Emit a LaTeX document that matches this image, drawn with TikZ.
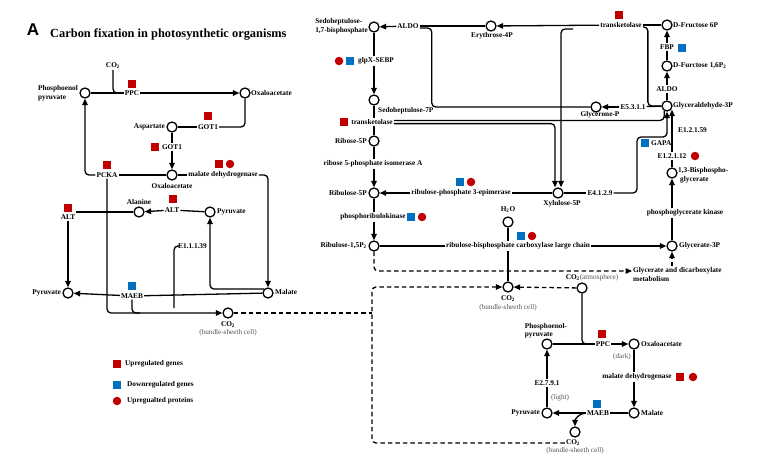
\documentclass[tikz,border=0pt]{standalone}
\usepackage{fontspec}
\setmainfont{Liberation Serif}
\newfontfamily\sansA{Liberation Sans}
\usetikzlibrary{arrows.meta,calc}
\definecolor{upred}{HTML}{C00000}
\definecolor{dnblue}{HTML}{0070C0}
\definecolor{txtgray}{HTML}{555555}
\begin{document}
\begin{tikzpicture}[x=1pt,y=-1pt,
  met/.style={circle,draw,line width=1.3pt,minimum size=10pt,inner sep=0pt},
  lb/.style={font=\bfseries\fontsize{7.3}{8.8}\selectfont,inner sep=1pt},
  gl/.style={font=\fontsize{7.2}{7.6}\selectfont,text=txtgray,inner sep=1pt},
  upg/.style={fill=upred,minimum size=7.5pt,inner sep=0pt},
  dng/.style={fill=dnblue,minimum size=7.5pt,inner sep=0pt},
  upp/.style={circle,fill=upred,minimum size=8.5pt,inner sep=0pt},
  ln/.style={line width=1.3pt},
  ar/.style={ln,-{Triangle[length=6.5pt,width=5.5pt]}},
  dsh/.style={line width=1.3pt,dash pattern=on 4.5pt off 3pt},
  dar/.style={dsh,-{Triangle[length=6.5pt,width=5.5pt]}},
  rc/.style={rounded corners=4pt},
]
\useasboundingbox (0,0) rectangle (760,463);
% ---------- title ----------
\node[font=\sansA\bfseries\fontsize{17}{17}\selectfont,inner sep=0] (A) at (33,30) {A};
\node[font=\bfseries\fontsize{12.4}{13}\selectfont,anchor=west,inner sep=0] (title) at (50,35) {Carbon fixation in photosynthetic organisms};
% ---------- left panel ----------
\node[lb] (co2a) at (113,66) {CO\textsubscript{2}};
\node[met] (pepL) at (85,93) {};
\node[lb,anchor=east,align=left] at (79,93) {Phosphoenol\\pyruvate};
\node[lb] (ppcL) at (132,93) {PPC};
\node[upg] at (132,84) {};
\node[met] (oaaL) at (245,93) {};
\node[lb,anchor=west] at (250,93) {Oxaloacetate};
\node[met] (asp) at (172,127) {};
\node[lb,anchor=east] at (166,127) {Aspartate};
\node[lb] (got1a) at (208,127) {GOT1};
\node[upg] at (208,116) {};
\node[lb] (got1b) at (172,147) {GOT1};
\node[upg] at (155,147) {};
\node[met] (oaa2) at (172,175) {};
\node[lb] at (172,186) {Oxaloacetate};
\node[lb] (pcka) at (107,175) {PCKA};
\node[upg] at (107,165) {};
\node[lb] (mdhL) at (223,175) {malate dehydrogenase};
\node[upg] at (219,164) {};
\node[upp] at (230,164) {};
\node[met] (malL) at (268,293) {};
\node[lb,anchor=west] at (274,292) {Malate};
\node[met] (ala) at (139,212) {};
\node[lb] at (139,202) {Alanine};
\node[lb] (alt1) at (172,210) {ALT};
\node[upg] at (173,199) {};
\node[met] (pyrA) at (210,212) {};
\node[lb,anchor=west] at (216,212) {Pyruvate};
\node[lb] (alt2) at (68,217) {ALT};
\node[upg] at (68,208) {};
\node[met] (pyrL) at (68,293) {};
\node[lb,anchor=east] at (62,293) {Pyruvate};
\node[lb] (maebL) at (132,296) {MAEB};
\node[dng] at (132,286) {};
\node[lb,anchor=west] (e11139) at (177,246) {E1.1.1.39};
\coordinate (e1end) at (174,308);
\node[met] (co2L) at (228,313) {};
\node[lb] at (228,325) {CO\textsubscript{2}};
\node[gl] at (228,333) {(bundle-sheeth cell)};
% left connectors
\draw[ln] (pepL) -- (ppcL);
\draw[ar] (ppcL) -- (oaaL);
\draw[ln,rc] (co2a.south) |- (ppcL.west);
\draw[ln,rc] (oaaL.south) |- (got1a.east);
\draw[ln] (got1a) -- (asp);
\draw[ln] (asp) -- (got1b);
\draw[ar] (got1b) -- (oaa2);
\draw[ln] (oaa2) -- (pcka);
\draw[ar,rc] (pcka.west) -| (pepL.south);
\draw[ln] (oaa2) -- (mdhL);
\draw[ar,rc] (mdhL.east) -| (malL.north);
\draw[ln] (pyrA) -- (alt1);
\draw[ar] (alt1) -- (ala);
\draw[ln] (ala.west) -- (ala.west -| alt2.east);
\draw[ar] (alt2.south) -- (pyrL.north);
\draw[ln] (malL) -- (maebL);
\draw[ar] (maebL) -- (pyrL);
\draw[ar,rc] (malL.135) -| (pyrA.south);
\draw[ln,rc] (e11139.west) -| (e1end);
\draw[ar,rc] (pcka.south) |- (co2L.west);
\draw[ln,rc] (maebL.south) |- ($(maebL.south |- co2L.west)+(8,0)$);
% ---------- right panel ----------
\node[met] (s17) at (374,27) {};
\node[lb,anchor=east,align=left] at (369,26) {Sedoheptulose-\\1,7-bisphosphate};
\node[lb] (aldoT) at (408,26) {ALDO};
\node[met] (e4p) at (491,26) {};
\node[lb] at (492,36) {Erythrose-4P};
\node[lb] (tkT) at (621,25) {transketolase};
\node[upg] at (619,15) {};
\coordinate (tkstub) at (573,29);
\node[met] (f6p) at (667,25) {};
\node[lb,anchor=west] at (672,25) {D-Fructose 6P};
\node[lb] (fbp) at (667,47) {FBP};
\node[dng] at (682,48) {};
\node[met] (f16) at (667,66) {};
\node[lb,anchor=west] at (672,66) {D-Furctose 1,6P\textsubscript{2}};
\node[lb] (aldoR) at (667,89) {ALDO};
\node[met] (g3p) at (667,106) {};
\node[lb,anchor=west] at (672,106) {Glyceraldehyde-3P};
\node[lb] (e5311) at (633,107) {E5.3.1.1};
\node[met] (gnp) at (596,107) {};
\node[lb] at (600,115) {Glycerone-P};
\node[lb] (glpx) at (376,61) {glpX-SEBP};
\node[upp] at (339,61) {};
\node[dng] at (350,61) {};
\node[met] (s7p) at (374,100) {};
\node[lb,anchor=west] at (377,111) {Sedoheptulose-7P};
\node[lb] (tkL) at (372,122) {transketolase};
\node[upg] at (344,122) {};
\node[met] (r5p) at (374,141) {};
\node[lb,anchor=east] at (368,141) {Ribose-5P};
\node[lb] (r5pi) at (373,164) {ribose 5-phosphate isomerase A};
\node[met] (ru5p) at (374,193) {};
\node[lb,anchor=east] at (368,193) {Ribulose-5P};
\node[lb] (rpe) at (461,193) {ribulose-phosphate 3-epimerase};
\node[dng] at (460,182) {};
\node[upp] at (471,182) {};
\node[met] (xu5p) at (558,193) {};
\node[lb] at (562,204) {Xylulose-5P};
\node[lb] (e4129) at (600,193) {E4.1.2.9};
\coordinate (gapabend) at (637,137);
\node[dng] at (645,143) {};
\node[lb,anchor=west] (gapa) at (650,143) {GAPA};
\node[lb,anchor=west] at (677,130) {E1.2.1.59};
\node[lb] (e12112) at (672,156) {E1.2.1.12};
\node[upp] at (695,156) {};
\node[met] (bpg) at (672,173) {};
\node[lb,anchor=north west,align=left] at (677,166) {1,3-Bisphospho-\\\hspace{2pt}glycerate};
\node[lb] (pgk) at (685,213) {phosphoglycerate kinase};
\node[met] (g3pa) at (672,246) {};
\node[lb,anchor=west] at (678,246) {Glycerate-3P};
\node[lb,anchor=west] (gdm1) at (632,271) {Glycerate and dicarboxylate};
\node[lb,anchor=north west] at (gdm1.south west) {metabolism};
\node[met] (rub15) at (374,246) {};
\node[lb,anchor=east] at (368,246) {Ribulose-1,5P\textsubscript{2}};
\node[lb] (prk) at (373,217) {phosphoribulokinase};
\node[dng] at (411,217) {};
\node[upp] at (422,217) {};
\node[lb] (rbcl) at (518,246) {ribulose-bisphosphate carboxylase large chain};
\node[dng] at (521,236) {};
\node[upp] at (532,236) {};
\node[lb] (h2o) at (508,210) {H\textsubscript{2}O};
\node[met] (h2oc) at (508,222) {};
\node[met] (co2B) at (508,287) {};
\node[lb] at (508,299) {CO\textsubscript{2}};
\node[gl] at (508,308) {(bundle-sheeth cell)};
\node[met] (co2atm) at (582,288) {};
\node[inner sep=1pt,font=\fontsize{7.3}{7.6}\selectfont] at (592,278) {\bfseries CO\textsubscript{2}{\mdseries\color{txtgray}(atmosphere)}};
% bottom right cycle
\node[met] (pepB) at (547,344) {};
\node[lb,align=left,font=\bfseries\fontsize{7.3}{7.6}\selectfont] at (546,331) {Phosphoenol-\\pyruvate};
\node[lb] (ppcB) at (603,344) {PPC};
\node[upg] at (602,334) {};
\node[met] (oaaB) at (634,344) {};
\node[lb,anchor=west] at (640,344) {Oxaloacetate};
\node[gl] at (622,357) {(dark)};
\node[lb] (mdhB) at (637,377) {malate dehydrogenase};
\node[upg] at (680,377) {};
\node[upp] at (693,377) {};
\node[met] (malB) at (634,413) {};
\node[lb,anchor=west] at (640,413) {Malate};
\node[lb] (maebB) at (598,413) {MAEB};
\node[dng] at (597,404) {};
\node[met] (pyrB) at (547,413) {};
\node[lb,anchor=east] at (541,413) {Pyruvate};
\node[lb] (e2791) at (547,383) {E2.7.9.1};
\node[gl] at (560,398) {(light)};
\node[met] (co2C) at (575,432) {};
\node[lb] (co2Ct) at (573,443) {CO\textsubscript{2}};
\node[gl] at (575,451) {(bundle-sheeth cell)};
\coordinate (dl) at (372,313);
% right connectors
\draw[ar] (aldoT) -- (s17);
\draw[ln] (aldoT) -- (e4p);
\draw[ar] (tkT) -- (e4p);
\draw[ln] (tkT) -- (f6p);
\draw[ln,rc] ($(aldoT.east)+(0,2)$) -- ++(12,0) |- (gnp.west);
\draw[ar,rc] (tkstub) -| ($(xu5p.north)+(3,0)$);
\draw[ln,rc] ($(tkT.east)+(0,2)$) -- ++(5,0) |- (g3p.west);
\draw[ln] (f16) -- (fbp);
\draw[ar] (fbp) -- (f6p);
\draw[ln] (g3p) -- (aldoR);
\draw[ar] (aldoR) -- (f16);
\draw[ln] (g3p) -- (e5311);
\draw[ar] (e5311) -- (gnp);
\draw[ln,rc] ($(tkL.east)+(0,-1.6)$) -| (g3p.-120);
\draw[ar,rc] ($(tkL.east)+(0,1.6)$) -| ($(xu5p.north)+(-3,0)$);
\draw[ln] (s17.south) -- (s17.south |- glpx.north);
\draw[ar] (s7p.north |- glpx.south) -- (s7p.north);
\draw[ln] (s7p.south) -- (s7p.south |- tkL.north);
\draw[ln] (r5p.north |- tkL.south) -- (r5p.north);
\draw[ln] (r5p.south) -- (r5p.south |- r5pi.north);
\draw[ar] (ru5p.north |- r5pi.south) -- (ru5p.north);
\draw[ln] (xu5p) -- (rpe);
\draw[ar] (rpe) -- (ru5p);
\draw[ln] (ru5p.south) -- (ru5p.south |- prk.north);
\draw[ar] (rub15.north |- prk.south) -- (rub15.north);
\draw[ln] (rub15) -- (rbcl);
\draw[ar] (rbcl) -- (g3pa);
\draw[ln] (h2oc.south) -- (h2oc.south |- rbcl.north);
\draw[ln] (co2B.north |- rbcl.south) -- (co2B.north);
\draw[ln] (xu5p) -- (e4129);
\draw[ar,rc] (e4129.east) -| (gapabend) -| (g3p.south);
\draw[ln] (bpg) -- (e12112);
\draw[ar] (e12112.north) -- (e12112.north |- g3p.-40);
\draw[ln] (g3pa.north) -- (g3pa.north |- pgk.south);
\draw[ar] (bpg.south |- pgk.north) -- (bpg.south);
\draw[dar] (g3pa.south |- gdm1.north) -- (g3pa.south);
\draw[dar,rc] (rub15.south) |- (gdm1.west);
\draw[dar] (co2atm) -- (co2B);
\draw[dar,rc] (co2Ct.west) -| (dl) |- (co2B.west);
\draw[dsh] (co2L.east) -- (co2L.east -| dl);
\draw[ln,rc] (co2atm.south) |- (ppcB.west);
\draw[ln] (pepB) -- (ppcB);
\draw[ar] (ppcB) -- (oaaB);
\draw[ln] (oaaB.south) -- (oaaB.south |- mdhB.north);
\draw[ar] (malB.north |- mdhB.south) -- (malB.north);
\draw[ln] (malB) -- (maebB);
\draw[ar] (maebB) -- (pyrB);
\draw[ar] (maebB.west) to[out=180,in=90] (co2C.north);
\draw[ln] (pyrB) -- (e2791);
\draw[ar] (e2791) -- (pepB);
% ---------- legend ----------
\node[upg,minimum size=8pt] at (117,364) {};
\node[lb,anchor=west] at (124,364) {Upregulated genes};
\node[dng,minimum size=8pt] at (117,385) {};
\node[lb,anchor=west] at (126,385) {Downregulated genes};
\node[upp] at (117,401) {};
\node[lb,anchor=west] at (126,401) {Upregualted proteins};
\end{tikzpicture}
\end{document}
